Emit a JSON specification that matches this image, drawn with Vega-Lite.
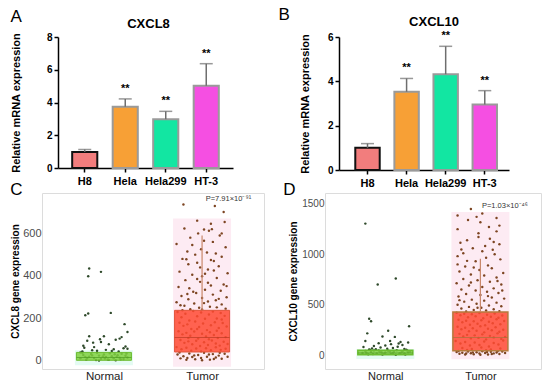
{
  "$schema": "https://vega.github.io/schema/vega-lite/v6.json",
  "padding": {"left": 10, "top": 6, "right": 0, "bottom": 0},
  "background": "white",
  "config": {
    "font": "Liberation Sans",
    "view": {"stroke": null},
    "title": {"color": "black"}
  },
  "datasets": {
    "b8": [
      {"cell": "H8", "mean": 0.98, "hi": 1.13, "sig": ""},
      {"cell": "Hela", "mean": 3.74, "hi": 4.22, "sig": "**"},
      {"cell": "Hela299", "mean": 2.98, "hi": 3.46, "sig": "**"},
      {"cell": "HT-3", "mean": 5.02, "hi": 6.37, "sig": "**"}
    ],
    "b10": [
      {"cell": "H8", "mean": 1.0, "hi": 1.19, "sig": ""},
      {"cell": "Hela", "mean": 3.53, "hi": 4.13, "sig": "**"},
      {"cell": "Hela299", "mean": 4.32, "hi": 5.58, "sig": "**"},
      {"cell": "HT-3", "mean": 2.96, "hi": 3.58, "sig": "**"}
    ],
    "c8box": [
      {"g": "Normal", "c": 1, "q1": 3, "med": 16, "q3": 40, "hi": 40, "bg0": -20, "bg1": 50},
      {"g": "Tumor", "c": 2, "q1": 42, "med": 110, "q3": 238, "hi": 590, "bg0": -28, "bg1": 670}
    ],
    "d10box": [
      {"g": "Normal", "c": 1, "q1": 3, "med": 20, "q3": 47, "hi": 47, "bg0": -40, "bg1": 60},
      {"g": "Tumor", "c": 2, "q1": 42, "med": 175, "q3": 428, "hi": 955, "bg0": -43, "bg1": 1420}
    ],
    "c8n": [
      {"j":0.85,"v":435},{"j":0.84,"v":398},{"j":0.97,"v":419},{"j":0.81,"v":215},{"j":0.84,"v":223},{"j":1.07,"v":226},{"j":1.21,"v":173},{"j":1.24,"v":136},{"j":0.85,"v":116},{"j":1.0,"v":116},{"j":1.12,"v":100},{"j":1.16,"v":105},{"j":0.79,"v":71},{"j":0.97,"v":89},{"j":0.89,"v":86},{"j":1.2,"v":60},{"j":1.1,"v":55},{"j":0.78,"v":45},{"j":0.93,"v":48},{"j":0.8,"v":62},{"j":0.83,"v":95},{"j":1.05,"v":78},{"j":1.02,"v":52},{"j":1.15,"v":44},{"j":1.22,"v":68},{"j":1.18,"v":112},{"j":1.24,"v":57},{"j":0.9,"v":65},{"j":0.96,"v":102},{"j":1.08,"v":47},{"j":0.76,"v":40},{"j":0.88,"v":50},
      {"j":0.76,"v":12},{"j":0.79,"v":28},{"j":0.82,"v":6},{"j":0.85,"v":20},{"j":0.87,"v":33},{"j":0.9,"v":14},{"j":0.92,"v":4},{"j":0.95,"v":25},{"j":0.97,"v":10},{"j":1.0,"v":30},{"j":1.02,"v":18},{"j":1.04,"v":7},{"j":1.06,"v":36},{"j":1.08,"v":22},{"j":1.1,"v":12},{"j":1.12,"v":3},{"j":1.14,"v":27},{"j":1.16,"v":15},{"j":1.18,"v":34},{"j":1.2,"v":9},{"j":1.22,"v":24},{"j":1.24,"v":16},{"j":0.78,"v":38},{"j":0.83,"v":14},{"j":0.93,"v":38},{"j":0.99,"v":21},{"j":1.05,"v":5},{"j":1.11,"v":31},{"j":1.17,"v":8},{"j":1.23,"v":35},{"j":0.88,"v":26},{"j":0.81,"v":19},{"j":1.13,"v":19},{"j":1.01,"v":11},{"j":0.95,"v":2}
    ],
    "c8t": [
      {"j":1.81,"v":736},{"j":2.13,"v":729},{"j":2.22,"v":701},{"j":2.23,"v":654},{"j":1.82,"v":623},{"j":2.02,"v":618},{"j":2.07,"v":612},{"j":2.10,"v":620},{"j":2.09,"v":645},{"j":1.96,"v":600},{"j":1.88,"v":580},{"j":2.02,"v":565},{"j":1.74,"v":550},{"j":2.24,"v":535},{"j":1.99,"v":525},{"j":2.05,"v":510},{"j":2.14,"v":505},{"j":1.93,"v":500},{"j":1.80,"v":480},{"j":1.84,"v":478},{"j":2.12,"v":470},{"j":1.95,"v":462},{"j":2.17,"v":445},{"j":2.06,"v":430},{"j":1.77,"v":420},{"j":2.26,"v":412},{"j":1.90,"v":405},{"j":2.0,"v":398},{"j":2.15,"v":390},{"j":1.83,"v":380},{"j":1.98,"v":372},{"j":2.22,"v":360},{"j":2.09,"v":355},{"j":1.76,"v":348},{"j":1.87,"v":342},{"j":2.03,"v":335},{"j":2.19,"v":330},{"j":1.94,"v":320},{"j":2.11,"v":312},{"j":1.79,"v":305},{"j":2.25,"v":300},{"j":2.0,"v":296},{"j":1.86,"v":290},{"j":2.14,"v":285},{"j":2.06,"v":280},{"j":1.74,"v":276},{"j":1.92,"v":270},{"j":2.2,"v":266},{"j":1.82,"v":260},{"j":2.08,"v":255},{"j":1.97,"v":250},{"j":2.24,"v":246},{"j":1.88,"v":243},{"j":1.95,"v":660},{"j":2.18,"v":590},{"j":1.9,"v":545},{"j":2.2,"v":490},{"j":1.86,"v":455},{"j":1.98,"v":440},{"j":2.12,"v":425},{"j":1.95,"v":385},{"j":2.06,"v":368},{"j":1.91,"v":325},{"j":2.17,"v":292},{"j":2.02,"v":272},{"j":1.78,"v":262},{"j":2.15,"v":252},{"j":1.85,"v":315},{"j":2.25,"v":352},{"j":2.03,"v":410},{"j":2.09,"v":475},{"j":1.85,"v":515},{"j":2.11,"v":560},{"j":2.2,"v":600},
      {"j":1.75,"v":230},{"j":1.79,"v":205},{"j":1.83,"v":222},{"j":1.87,"v":190},{"j":1.91,"v":235},{"j":1.95,"v":210},{"j":1.99,"v":228},{"j":2.03,"v":198},{"j":2.07,"v":218},{"j":2.11,"v":232},{"j":2.15,"v":200},{"j":2.19,"v":225},{"j":2.23,"v":212},{"j":1.77,"v":180},{"j":1.81,"v":165},{"j":1.85,"v":172},{"j":1.89,"v":150},{"j":1.93,"v":185},{"j":1.97,"v":160},{"j":2.01,"v":176},{"j":2.05,"v":145},{"j":2.09,"v":168},{"j":2.13,"v":182},{"j":2.17,"v":155},{"j":2.21,"v":178},{"j":2.25,"v":162},{"j":1.76,"v":140},{"j":1.8,"v":125},{"j":1.84,"v":132},{"j":1.88,"v":118},{"j":1.92,"v":138},{"j":1.96,"v":105},{"j":2.0,"v":128},{"j":2.04,"v":115},{"j":2.08,"v":135},{"j":2.12,"v":122},{"j":2.16,"v":108},{"j":2.2,"v":130},{"j":2.24,"v":112},{"j":1.78,"v":98},{"j":1.82,"v":85},{"j":1.86,"v":92},{"j":1.9,"v":78},{"j":1.94,"v":95},{"j":1.98,"v":70},{"j":2.02,"v":88},{"j":2.06,"v":75},{"j":2.1,"v":96},{"j":2.14,"v":82},{"j":2.18,"v":72},{"j":2.22,"v":90},{"j":2.26,"v":80},{"j":1.74,"v":65},{"j":1.79,"v":55},{"j":1.84,"v":62},{"j":1.89,"v":48},{"j":1.94,"v":58},{"j":1.99,"v":45},{"j":2.04,"v":60},{"j":2.09,"v":50},{"j":2.14,"v":64},{"j":2.19,"v":52},{"j":2.24,"v":57},{"j":1.8,"v":238},{"j":2.0,"v":242},{"j":2.2,"v":195},{"j":1.86,"v":108},{"j":2.07,"v":102},{"j":2.15,"v":142},{"j":1.95,"v":150},
      {"j":1.75,"v":30},{"j":1.78,"v":12},{"j":1.81,"v":22},{"j":1.84,"v":5},{"j":1.87,"v":35},{"j":1.9,"v":18},{"j":1.93,"v":8},{"j":1.96,"v":28},{"j":1.99,"v":14},{"j":2.02,"v":38},{"j":2.05,"v":20},{"j":2.08,"v":6},{"j":2.11,"v":32},{"j":2.14,"v":16},{"j":2.17,"v":25},{"j":2.2,"v":10},{"j":2.23,"v":34},{"j":2.26,"v":20},{"j":1.77,"v":40},{"j":1.92,"v":26},{"j":2.0,"v":3},{"j":2.12,"v":9},{"j":2.18,"v":38},{"j":1.85,"v":14},{"j":2.07,"v":30}
    ],
    "d10n": [
      {"j":0.79,"v":1305},{"j":0.92,"v":700},{"j":1.11,"v":760},{"j":0.83,"v":360},{"j":0.85,"v":335},{"j":0.81,"v":215},{"j":1.25,"v":285},{"j":1.03,"v":240},{"j":0.97,"v":183},{"j":1.1,"v":180},{"j":0.79,"v":140},{"j":1.24,"v":125},{"j":0.93,"v":117},{"j":1.05,"v":140},{"j":1.14,"v":115},{"j":0.88,"v":90},{"j":1.0,"v":95},{"j":1.18,"v":100},{"j":0.86,"v":65},{"j":1.08,"v":70},{"j":1.2,"v":60},{"j":0.95,"v":75},{"j":1.13,"v":82},{"j":0.83,"v":55},{"j":1.02,"v":62},{"j":1.22,"v":52},{"j":0.9,"v":58},{"j":1.16,"v":130},{"j":1.06,"v":108},{"j":0.77,"v":80},
      {"j":0.76,"v":20},{"j":0.79,"v":40},{"j":0.82,"v":8},{"j":0.85,"v":30},{"j":0.88,"v":45},{"j":0.91,"v":15},{"j":0.94,"v":35},{"j":0.97,"v":5},{"j":1.0,"v":25},{"j":1.03,"v":42},{"j":1.06,"v":12},{"j":1.09,"v":32},{"j":1.12,"v":48},{"j":1.15,"v":18},{"j":1.18,"v":38},{"j":1.21,"v":6},{"j":1.24,"v":28},{"j":0.8,"v":22},{"j":0.87,"v":10},{"j":0.93,"v":46},{"j":0.99,"v":14},{"j":1.05,"v":36},{"j":1.11,"v":3},{"j":1.17,"v":26},{"j":1.23,"v":44},{"j":0.84,"v":50},{"j":0.96,"v":28},{"j":1.08,"v":20},{"j":1.2,"v":16},{"j":1.26,"v":34}
    ],
    "d10t": [
      {"j":1.9,"v":1450},{"j":1.76,"v":1385},{"j":1.96,"v":1372},{"j":2.17,"v":1360},{"j":1.87,"v":1340},{"j":2.0,"v":1318},{"j":2.09,"v":1272},{"j":1.76,"v":1250},{"j":2.17,"v":1228},{"j":1.98,"v":1172},{"j":1.86,"v":1140},{"j":2.14,"v":1122},{"j":2.2,"v":1100},{"j":2.05,"v":1082},{"j":1.92,"v":1060},{"j":1.8,"v":1048},{"j":2.02,"v":1030},{"j":2.15,"v":1000},{"j":1.76,"v":982},{"j":2.21,"v":950},{"j":1.95,"v":932},{"j":1.76,"v":900},{"j":2.08,"v":890},{"j":1.84,"v":880},{"j":2.12,"v":862},{"j":1.99,"v":845},{"j":1.78,"v":830},{"j":2.24,"v":815},{"j":1.9,"v":800},{"j":2.04,"v":790},{"j":2.17,"v":770},{"j":1.82,"v":755},{"j":1.97,"v":742},{"j":2.1,"v":728},{"j":1.75,"v":712},{"j":2.22,"v":700},{"j":1.88,"v":690},{"j":2.02,"v":675},{"j":2.14,"v":662},{"j":1.8,"v":650},{"j":1.95,"v":640},{"j":2.07,"v":628},{"j":2.19,"v":615},{"j":1.85,"v":605},{"j":2.0,"v":595},{"j":1.77,"v":582},{"j":2.12,"v":572},{"j":2.25,"v":560},{"j":1.91,"v":550},{"j":2.04,"v":540},{"j":1.83,"v":530},{"j":2.17,"v":520},{"j":1.96,"v":510},{"j":1.76,"v":500},{"j":2.09,"v":492},{"j":2.22,"v":485},{"j":1.88,"v":478},{"j":2.01,"v":470},{"j":1.8,"v":462},{"j":2.14,"v":455},{"j":1.93,"v":448},{"j":2.06,"v":442},{"j":2.2,"v":436},{"j":1.85,"v":432},{"j":1.98,"v":1210},{"j":2.1,"v":1155},{"j":1.82,"v":1010},{"j":2.06,"v":965},{"j":1.93,"v":870},{"j":2.2,"v":1285},{"j":1.79,"v":1115},{"j":2.13,"v":1045},{"j":1.9,"v":720},{"j":2.23,"v":640},{"j":1.78,"v":545},{"j":2.08,"v":585},{"j":1.97,"v":470},{"j":2.18,"v":735},{"j":1.86,"v":935},{"j":2.02,"v":1405},
      {"j":1.75,"v":420},{"j":1.79,"v":395},{"j":1.83,"v":410},{"j":1.87,"v":375},{"j":1.91,"v":405},{"j":1.95,"v":385},{"j":1.99,"v":418},{"j":2.03,"v":365},{"j":2.07,"v":400},{"j":2.11,"v":380},{"j":2.15,"v":412},{"j":2.19,"v":370},{"j":2.23,"v":392},{"j":1.77,"v":350},{"j":1.81,"v":325},{"j":1.85,"v":340},{"j":1.89,"v":300},{"j":1.93,"v":335},{"j":1.97,"v":310},{"j":2.01,"v":345},{"j":2.05,"v":295},{"j":2.09,"v":330},{"j":2.13,"v":315},{"j":2.17,"v":355},{"j":2.21,"v":305},{"j":2.25,"v":338},{"j":1.76,"v":280},{"j":1.8,"v":255},{"j":1.84,"v":270},{"j":1.88,"v":235},{"j":1.92,"v":265},{"j":1.96,"v":240},{"j":2.0,"v":285},{"j":2.04,"v":225},{"j":2.08,"v":260},{"j":2.12,"v":245},{"j":2.16,"v":275},{"j":2.2,"v":230},{"j":2.24,"v":250},{"j":1.78,"v":210},{"j":1.82,"v":185},{"j":1.86,"v":200},{"j":1.9,"v":165},{"j":1.94,"v":195},{"j":1.98,"v":170},{"j":2.02,"v":205},{"j":2.06,"v":155},{"j":2.1,"v":190},{"j":2.14,"v":175},{"j":2.18,"v":215},{"j":2.22,"v":160},{"j":2.26,"v":180},{"j":1.74,"v":140},{"j":1.79,"v":115},{"j":1.84,"v":130},{"j":1.89,"v":95},{"j":1.94,"v":125},{"j":1.99,"v":100},{"j":2.04,"v":135},{"j":2.09,"v":85},{"j":2.14,"v":120},{"j":2.19,"v":105},{"j":2.24,"v":145},{"j":1.81,"v":70},{"j":1.91,"v":60},{"j":2.01,"v":75},{"j":2.11,"v":55},{"j":2.21,"v":65},{"j":1.86,"v":50},{"j":2.06,"v":48},
      {"j":1.75,"v":30},{"j":1.78,"v":12},{"j":1.81,"v":22},{"j":1.84,"v":5},{"j":1.87,"v":35},{"j":1.9,"v":18},{"j":1.93,"v":8},{"j":1.96,"v":28},{"j":1.99,"v":14},{"j":2.02,"v":38},{"j":2.05,"v":20},{"j":2.08,"v":6},{"j":2.11,"v":32},{"j":2.14,"v":16},{"j":2.17,"v":25},{"j":2.2,"v":10},{"j":2.23,"v":34},{"j":2.26,"v":20},{"j":1.77,"v":40},{"j":1.92,"v":26},{"j":2.0,"v":3},{"j":2.12,"v":9},{"j":2.18,"v":38},{"j":1.85,"v":14},{"j":2.07,"v":30}
    ]
  },
  "spacing": 13,
  "hconcat": [
    {
      "columns": 1,
      "align": "none",
      "spacing": -6,
      "concat": [
        {
          "title": {"text": "A", "anchor": "start", "fontSize": 17, "fontWeight": "normal", "offset": -8},
          "vconcat": [
            {
              "title": {"text": "CXCL8", "fontSize": 13, "fontWeight": "bold", "frame": "group", "dx": 11, "offset": 1},
              "width": 191,
              "height": 131,
              "data": {"name": "b8"},
              "encoding": {
                "x": {"field": "cell", "type": "nominal", "sort": null, "scale": {"paddingInner": 0.38, "paddingOuter": 0.548, "align": 0.68},
                  "axis": {"title": null, "labelAngle": 0, "labelFontSize": 11, "labelFontWeight": "bold", "labelColor": "black", "labelPadding": 3, "domainColor": "black", "domainWidth": 1.5, "domainDash": [0, 16, 400], "tickColor": "black", "tickWidth": 1.5, "tickSize": 4}}
              },
              "layer": [
                {
                  "mark": {"type": "bar", "strokeWidth": 2},
                  "encoding": {
                    "y": {"field": "mean", "type": "quantitative", "scale": {"domain": [0, 8]},
                      "axis": {"offset": -16, "values": [0, 2, 4, 6, 8], "title": "Relative mRNA expression", "titleFontSize": 11, "titleFontWeight": "bold", "titleColor": "black", "titlePadding": 25, "labelFontSize": 10, "labelFontWeight": "bold", "labelColor": "black", "labelPadding": 2, "labelOverlap": false, "domainColor": "black", "domainWidth": 1.5, "tickColor": "black", "tickWidth": 1.5, "tickSize": 4, "grid": false}},
                    "fill": {"field": "cell", "type": "nominal", "sort": null, "scale": {"domain": ["H8", "Hela", "Hela299", "HT-3"], "range": ["#f27d7d", "#f7a036", "#12e6a2", "#f54fe2"]}, "legend": null},
                    "stroke": {"condition": {"test": "datum.cell === 'H8'", "value": "#111111"}, "value": "#9a9a9a"}
                  }
                },
                {
                  "mark": {"type": "rule", "color": "#6e6e6e", "strokeWidth": 1.5},
                  "encoding": {
                    "y": {"field": "mean", "type": "quantitative", "scale": {"domain": [0, 8]},
                      "axis": {"offset": -16, "values": [0, 2, 4, 6, 8], "title": "Relative mRNA expression", "titleFontSize": 11, "titleFontWeight": "bold", "titleColor": "black", "titlePadding": 25, "labelFontSize": 10, "labelFontWeight": "bold", "labelColor": "black", "labelPadding": 2, "labelOverlap": false, "domainColor": "black", "domainWidth": 1.5, "tickColor": "black", "tickWidth": 1.5, "tickSize": 4, "grid": false}},
                    "y2": {"field": "hi"}
                  }
                },
                {
                  "mark": {"type": "tick", "color": "#6e6e6e", "size": 13, "thickness": 1.5},
                  "encoding": {
                    "y": {"field": "hi", "type": "quantitative", "scale": {"domain": [0, 8]},
                      "axis": {"offset": -16, "values": [0, 2, 4, 6, 8], "title": "Relative mRNA expression", "titleFontSize": 11, "titleFontWeight": "bold", "titleColor": "black", "titlePadding": 25, "labelFontSize": 10, "labelFontWeight": "bold", "labelColor": "black", "labelPadding": 2, "labelOverlap": false, "domainColor": "black", "domainWidth": 1.5, "tickColor": "black", "tickWidth": 1.5, "tickSize": 4, "grid": false}}
                  }
                },
                {
                  "mark": {"type": "text", "fontSize": 11, "fontWeight": "bold", "baseline": "bottom", "dy": -5, "color": "black"},
                  "encoding": {
                    "y": {"field": "hi", "type": "quantitative", "scale": {"domain": [0, 8]},
                      "axis": {"offset": -16, "values": [0, 2, 4, 6, 8], "title": "Relative mRNA expression", "titleFontSize": 11, "titleFontWeight": "bold", "titleColor": "black", "titlePadding": 25, "labelFontSize": 10, "labelFontWeight": "bold", "labelColor": "black", "labelPadding": 2, "labelOverlap": false, "domainColor": "black", "domainWidth": 1.5, "tickColor": "black", "tickWidth": 1.5, "tickSize": 4, "grid": false}},
                    "text": {"field": "sig"}
                  }
                }
              ]
            }
          ]
        },
        {
          "title": {"text": "C", "anchor": "start", "fontSize": 17, "fontWeight": "normal", "offset": -6},
          "vconcat": [
            {
              "width": 222,
              "height": 176,
              "view": {"stroke": "#dcdcdc"},
              "layer": [
                {
                  "data": {"name": "c8box"},
                  "mark": {"type": "bar", "orient": "vertical", "width": 58},
                  "encoding": {
                    "x": {"field": "c", "type": "quantitative", "scale": {"domain": [0.42, 2.58], "nice": false, "zero": false},
                      "axis": {"values": [1, 2], "labelExpr": "datum.value == 1 ? 'Normal' : 'Tumor'", "title": null, "domain": false, "grid": false, "ticks": false, "labelFontSize": 11.5, "labelColor": "#222222", "labelPadding": 1}},
                    "y": {"field": "bg0", "type": "quantitative", "scale": {"domain": [-38, 790], "nice": false, "zero": false},
                      "axis": {"values": [0, 200, 400, 600], "format": "d", "title": "CXCL8 gene expression", "titleFontSize": 10, "titleFontWeight": "bold", "titleColor": "black", "titlePadding": 2, "labelFontSize": 11, "labelColor": "#4d4d4d", "labelPadding": 1, "domain": false, "ticks": false, "grid": false}},
                    "y2": {"field": "bg1"},
                    "color": {"condition": {"test": "datum.g === 'Normal'", "value": "#e4fbf3"}, "value": "#fdebf3"}
                  }
                },
                {
                  "data": {"name": "c8n"},
                  "mark": {"type": "circle", "size": 6, "opacity": 1, "color": "#2f4a2b"},
                  "encoding": {
                    "x": {"field": "j", "type": "quantitative", "scale": {"domain": [0.42, 2.58], "nice": false, "zero": false},
                      "axis": {"values": [1, 2], "labelExpr": "datum.value == 1 ? 'Normal' : 'Tumor'", "title": null, "domain": false, "grid": false, "ticks": false, "labelFontSize": 11.5, "labelColor": "#222222", "labelPadding": 1}},
                    "y": {"field": "v", "type": "quantitative", "scale": {"domain": [-38, 790], "nice": false, "zero": false},
                      "axis": {"values": [0, 200, 400, 600], "format": "d", "title": "CXCL8 gene expression", "titleFontSize": 10, "titleFontWeight": "bold", "titleColor": "black", "titlePadding": 2, "labelFontSize": 11, "labelColor": "#4d4d4d", "labelPadding": 1, "domain": false, "ticks": false, "grid": false}}
                  }
                },
                {
                  "data": {"name": "c8t"},
                  "mark": {"type": "circle", "size": 6, "opacity": 1, "color": "#7d4522"},
                  "encoding": {
                    "x": {"field": "j", "type": "quantitative", "scale": {"domain": [0.42, 2.58], "nice": false, "zero": false},
                      "axis": {"values": [1, 2], "labelExpr": "datum.value == 1 ? 'Normal' : 'Tumor'", "title": null, "domain": false, "grid": false, "ticks": false, "labelFontSize": 11.5, "labelColor": "#222222", "labelPadding": 1}},
                    "y": {"field": "v", "type": "quantitative", "scale": {"domain": [-38, 790], "nice": false, "zero": false},
                      "axis": {"values": [0, 200, 400, 600], "format": "d", "title": "CXCL8 gene expression", "titleFontSize": 10, "titleFontWeight": "bold", "titleColor": "black", "titlePadding": 2, "labelFontSize": 11, "labelColor": "#4d4d4d", "labelPadding": 1, "domain": false, "ticks": false, "grid": false}}
                  }
                },
                {
                  "data": {"name": "c8box"},
                  "mark": {"type": "bar", "orient": "vertical", "width": 55, "fillOpacity": 0.85, "strokeWidth": 1},
                  "encoding": {
                    "x": {"field": "c", "type": "quantitative", "scale": {"domain": [0.42, 2.58], "nice": false, "zero": false},
                      "axis": {"values": [1, 2], "labelExpr": "datum.value == 1 ? 'Normal' : 'Tumor'", "title": null, "domain": false, "grid": false, "ticks": false, "labelFontSize": 11.5, "labelColor": "#222222", "labelPadding": 1}},
                    "y": {"field": "q1", "type": "quantitative", "scale": {"domain": [-38, 790], "nice": false, "zero": false},
                      "axis": {"values": [0, 200, 400, 600], "format": "d", "title": "CXCL8 gene expression", "titleFontSize": 10, "titleFontWeight": "bold", "titleColor": "black", "titlePadding": 2, "labelFontSize": 11, "labelColor": "#4d4d4d", "labelPadding": 1, "domain": false, "ticks": false, "grid": false}},
                    "y2": {"field": "q3"},
                    "fill": {"condition": {"test": "datum.g === 'Normal'", "value": "#7fd03e"}, "value": "#ff4a32"},
                    "stroke": {"condition": {"test": "datum.g === 'Normal'", "value": "#6cbc30"}, "value": "#e0553a"}
                  }
                },
                {
                  "data": {"name": "c8box"},
                  "mark": {"type": "tick", "orient": "horizontal", "size": 55, "thickness": 1},
                  "encoding": {
                    "x": {"field": "c", "type": "quantitative", "scale": {"domain": [0.42, 2.58], "nice": false, "zero": false},
                      "axis": {"values": [1, 2], "labelExpr": "datum.value == 1 ? 'Normal' : 'Tumor'", "title": null, "domain": false, "grid": false, "ticks": false, "labelFontSize": 11.5, "labelColor": "#222222", "labelPadding": 1}},
                    "y": {"field": "med", "type": "quantitative", "scale": {"domain": [-38, 790], "nice": false, "zero": false},
                      "axis": {"values": [0, 200, 400, 600], "format": "d", "title": "CXCL8 gene expression", "titleFontSize": 10, "titleFontWeight": "bold", "titleColor": "black", "titlePadding": 2, "labelFontSize": 11, "labelColor": "#4d4d4d", "labelPadding": 1, "domain": false, "ticks": false, "grid": false}},
                    "color": {"condition": {"test": "datum.g === 'Normal'", "value": "#4d9a22"}, "value": "#b83a22"}
                  }
                },
                {
                  "data": {"name": "c8box"},
                  "mark": {"type": "rule", "strokeWidth": 1.2},
                  "encoding": {
                    "x": {"field": "c", "type": "quantitative", "scale": {"domain": [0.42, 2.58], "nice": false, "zero": false},
                      "axis": {"values": [1, 2], "labelExpr": "datum.value == 1 ? 'Normal' : 'Tumor'", "title": null, "domain": false, "grid": false, "ticks": false, "labelFontSize": 11.5, "labelColor": "#222222", "labelPadding": 1}},
                    "y": {"field": "q3", "type": "quantitative", "scale": {"domain": [-38, 790], "nice": false, "zero": false},
                      "axis": {"values": [0, 200, 400, 600], "format": "d", "title": "CXCL8 gene expression", "titleFontSize": 10, "titleFontWeight": "bold", "titleColor": "black", "titlePadding": 2, "labelFontSize": 11, "labelColor": "#4d4d4d", "labelPadding": 1, "domain": false, "ticks": false, "grid": false}},
                    "y2": {"field": "hi"},
                    "color": {"condition": {"test": "datum.g === 'Normal'", "value": "#6cbc30"}, "value": "#c8876a"}
                  }
                },
                {
                  "data": {"values": [{"label": "P=7.91×10⁻⁹¹"}]},
                  "mark": {"type": "text", "align": "right", "baseline": "middle", "fontSize": 7.5, "color": "#333333"},
                  "encoding": {
                    "x": {"datum": 2.5, "type": "quantitative", "scale": {"domain": [0.42, 2.58], "nice": false, "zero": false},
                      "axis": {"values": [1, 2], "labelExpr": "datum.value == 1 ? 'Normal' : 'Tumor'", "title": null, "domain": false, "grid": false, "ticks": false, "labelFontSize": 11.5, "labelColor": "#222222", "labelPadding": 1}},
                    "y": {"datum": 760, "type": "quantitative", "scale": {"domain": [-38, 790], "nice": false, "zero": false},
                      "axis": {"values": [0, 200, 400, 600], "format": "d", "title": "CXCL8 gene expression", "titleFontSize": 10, "titleFontWeight": "bold", "titleColor": "black", "titlePadding": 2, "labelFontSize": 11, "labelColor": "#4d4d4d", "labelPadding": 1, "domain": false, "ticks": false, "grid": false}},
                    "text": {"field": "label"}
                  }
                }
              ]
            }
          ]
        }
      ]
    },
    {
      "columns": 1,
      "align": "none",
      "spacing": -8,
      "concat": [
        {
          "title": {"text": "B", "anchor": "start", "fontSize": 17, "fontWeight": "normal", "offset": -8, "dx": -21},
          "vconcat": [
            {
              "title": {"text": "CXCL10", "fontSize": 13, "fontWeight": "bold", "frame": "group", "dx": 17, "offset": 1},
              "width": 184,
              "height": 133,
              "data": {"name": "b10"},
              "encoding": {
                "x": {"field": "cell", "type": "nominal", "sort": null, "scale": {"paddingInner": 0.375, "paddingOuter": 0.541, "align": 0.716},
                  "axis": {"title": null, "labelAngle": 0, "labelFontSize": 11, "labelFontWeight": "bold", "labelColor": "black", "labelPadding": 3, "domainColor": "black", "domainWidth": 1.5, "domainDash": [0, 14, 400], "tickColor": "black", "tickWidth": 1.5, "tickSize": 4}}
              },
              "layer": [
                {
                  "mark": {"type": "bar", "strokeWidth": 2},
                  "encoding": {
                    "y": {"field": "mean", "type": "quantitative", "scale": {"domain": [0, 6]},
                      "axis": {"offset": -14, "values": [0, 2, 4, 6], "title": "Relative mRNA expression", "titleFontSize": 11, "titleFontWeight": "bold", "titleColor": "black", "titlePadding": 17, "labelFontSize": 10, "labelFontWeight": "bold", "labelColor": "black", "labelPadding": 2, "labelOverlap": false, "domainColor": "black", "domainWidth": 1.5, "tickColor": "black", "tickWidth": 1.5, "tickSize": 4, "grid": false}},
                    "fill": {"field": "cell", "type": "nominal", "sort": null, "scale": {"domain": ["H8", "Hela", "Hela299", "HT-3"], "range": ["#f87a7a", "#f5a030", "#0ee8a4", "#f64de0"]}, "legend": null},
                    "stroke": {"condition": {"test": "datum.cell === 'H8'", "value": "#111111"}, "value": "#9a9a9a"}
                  }
                },
                {
                  "mark": {"type": "rule", "color": "#6e6e6e", "strokeWidth": 1.5},
                  "encoding": {
                    "y": {"field": "mean", "type": "quantitative", "scale": {"domain": [0, 6]},
                      "axis": {"offset": -14, "values": [0, 2, 4, 6], "title": "Relative mRNA expression", "titleFontSize": 11, "titleFontWeight": "bold", "titleColor": "black", "titlePadding": 17, "labelFontSize": 10, "labelFontWeight": "bold", "labelColor": "black", "labelPadding": 2, "labelOverlap": false, "domainColor": "black", "domainWidth": 1.5, "tickColor": "black", "tickWidth": 1.5, "tickSize": 4, "grid": false}},
                    "y2": {"field": "hi"}
                  }
                },
                {
                  "mark": {"type": "tick", "color": "#6e6e6e", "size": 13, "thickness": 1.5},
                  "encoding": {
                    "y": {"field": "hi", "type": "quantitative", "scale": {"domain": [0, 6]},
                      "axis": {"offset": -14, "values": [0, 2, 4, 6], "title": "Relative mRNA expression", "titleFontSize": 11, "titleFontWeight": "bold", "titleColor": "black", "titlePadding": 17, "labelFontSize": 10, "labelFontWeight": "bold", "labelColor": "black", "labelPadding": 2, "labelOverlap": false, "domainColor": "black", "domainWidth": 1.5, "tickColor": "black", "tickWidth": 1.5, "tickSize": 4, "grid": false}}
                  }
                },
                {
                  "mark": {"type": "text", "fontSize": 11, "fontWeight": "bold", "baseline": "bottom", "dy": -5, "color": "black"},
                  "encoding": {
                    "y": {"field": "hi", "type": "quantitative", "scale": {"domain": [0, 6]},
                      "axis": {"offset": -14, "values": [0, 2, 4, 6], "title": "Relative mRNA expression", "titleFontSize": 11, "titleFontWeight": "bold", "titleColor": "black", "titlePadding": 17, "labelFontSize": 10, "labelFontWeight": "bold", "labelColor": "black", "labelPadding": 2, "labelOverlap": false, "domainColor": "black", "domainWidth": 1.5, "tickColor": "black", "tickWidth": 1.5, "tickSize": 4, "grid": false}},
                    "text": {"field": "sig"}
                  }
                }
              ]
            }
          ]
        },
        {
          "title": {"text": "D", "anchor": "start", "fontSize": 17, "fontWeight": "normal", "offset": -6, "dx": -5},
          "vconcat": [
            {
              "width": 216,
              "height": 176,
              "view": {"stroke": "#dcdcdc"},
              "layer": [
                {
                  "data": {"name": "d10box"},
                  "mark": {"type": "bar", "orient": "vertical", "width": 58},
                  "encoding": {
                    "x": {"field": "c", "type": "quantitative", "scale": {"domain": [0.418, 2.585], "nice": false, "zero": false},
                      "axis": {"values": [1, 2], "labelExpr": "datum.value == 1 ? 'Normal' : 'Tumor'", "title": null, "domain": false, "grid": false, "ticks": false, "labelFontSize": 11, "labelColor": "#222222", "labelPadding": 1}},
                    "y": {"field": "bg0", "type": "quantitative", "scale": {"domain": [-139, 1609], "nice": false, "zero": false},
                      "axis": {"values": [0, 500, 1000, 1500], "format": "d", "title": "CXCL10 gene expression", "titleFontSize": 10, "titleFontWeight": "bold", "titleColor": "black", "titlePadding": 3, "labelFontSize": 10, "labelColor": "#4d4d4d", "labelPadding": 1, "domain": false, "ticks": false, "grid": false}},
                    "y2": {"field": "bg1"},
                    "color": {"condition": {"test": "datum.g === 'Normal'", "value": "#e4fbf3"}, "value": "#fdebf3"}
                  }
                },
                {
                  "data": {"name": "d10n"},
                  "mark": {"type": "circle", "size": 6, "opacity": 1, "color": "#2f4a2b"},
                  "encoding": {
                    "x": {"field": "j", "type": "quantitative", "scale": {"domain": [0.418, 2.585], "nice": false, "zero": false},
                      "axis": {"values": [1, 2], "labelExpr": "datum.value == 1 ? 'Normal' : 'Tumor'", "title": null, "domain": false, "grid": false, "ticks": false, "labelFontSize": 11, "labelColor": "#222222", "labelPadding": 1}},
                    "y": {"field": "v", "type": "quantitative", "scale": {"domain": [-139, 1609], "nice": false, "zero": false},
                      "axis": {"values": [0, 500, 1000, 1500], "format": "d", "title": "CXCL10 gene expression", "titleFontSize": 10, "titleFontWeight": "bold", "titleColor": "black", "titlePadding": 3, "labelFontSize": 10, "labelColor": "#4d4d4d", "labelPadding": 1, "domain": false, "ticks": false, "grid": false}}
                  }
                },
                {
                  "data": {"name": "d10t"},
                  "mark": {"type": "circle", "size": 6, "opacity": 1, "color": "#7d4522"},
                  "encoding": {
                    "x": {"field": "j", "type": "quantitative", "scale": {"domain": [0.418, 2.585], "nice": false, "zero": false},
                      "axis": {"values": [1, 2], "labelExpr": "datum.value == 1 ? 'Normal' : 'Tumor'", "title": null, "domain": false, "grid": false, "ticks": false, "labelFontSize": 11, "labelColor": "#222222", "labelPadding": 1}},
                    "y": {"field": "v", "type": "quantitative", "scale": {"domain": [-139, 1609], "nice": false, "zero": false},
                      "axis": {"values": [0, 500, 1000, 1500], "format": "d", "title": "CXCL10 gene expression", "titleFontSize": 10, "titleFontWeight": "bold", "titleColor": "black", "titlePadding": 3, "labelFontSize": 10, "labelColor": "#4d4d4d", "labelPadding": 1, "domain": false, "ticks": false, "grid": false}}
                  }
                },
                {
                  "data": {"name": "d10box"},
                  "mark": {"type": "bar", "orient": "vertical", "width": 55, "fillOpacity": 0.85, "strokeWidth": 1.5},
                  "encoding": {
                    "x": {"field": "c", "type": "quantitative", "scale": {"domain": [0.418, 2.585], "nice": false, "zero": false},
                      "axis": {"values": [1, 2], "labelExpr": "datum.value == 1 ? 'Normal' : 'Tumor'", "title": null, "domain": false, "grid": false, "ticks": false, "labelFontSize": 11, "labelColor": "#222222", "labelPadding": 1}},
                    "y": {"field": "q1", "type": "quantitative", "scale": {"domain": [-139, 1609], "nice": false, "zero": false},
                      "axis": {"values": [0, 500, 1000, 1500], "format": "d", "title": "CXCL10 gene expression", "titleFontSize": 10, "titleFontWeight": "bold", "titleColor": "black", "titlePadding": 3, "labelFontSize": 10, "labelColor": "#4d4d4d", "labelPadding": 1, "domain": false, "ticks": false, "grid": false}},
                    "y2": {"field": "q3"},
                    "fill": {"condition": {"test": "datum.g === 'Normal'", "value": "#7fd03e"}, "value": "#ff4a32"},
                    "stroke": {"condition": {"test": "datum.g === 'Normal'", "value": "#6cbc30"}, "value": "#b57a3c"}
                  }
                },
                {
                  "data": {"name": "d10box"},
                  "mark": {"type": "tick", "orient": "horizontal", "size": 55, "thickness": 1},
                  "encoding": {
                    "x": {"field": "c", "type": "quantitative", "scale": {"domain": [0.418, 2.585], "nice": false, "zero": false},
                      "axis": {"values": [1, 2], "labelExpr": "datum.value == 1 ? 'Normal' : 'Tumor'", "title": null, "domain": false, "grid": false, "ticks": false, "labelFontSize": 11, "labelColor": "#222222", "labelPadding": 1}},
                    "y": {"field": "med", "type": "quantitative", "scale": {"domain": [-139, 1609], "nice": false, "zero": false},
                      "axis": {"values": [0, 500, 1000, 1500], "format": "d", "title": "CXCL10 gene expression", "titleFontSize": 10, "titleFontWeight": "bold", "titleColor": "black", "titlePadding": 3, "labelFontSize": 10, "labelColor": "#4d4d4d", "labelPadding": 1, "domain": false, "ticks": false, "grid": false}},
                    "color": {"condition": {"test": "datum.g === 'Normal'", "value": "#4d9a22"}, "value": "#a8703a"}
                  }
                },
                {
                  "data": {"name": "d10box"},
                  "mark": {"type": "rule", "strokeWidth": 1.2},
                  "encoding": {
                    "x": {"field": "c", "type": "quantitative", "scale": {"domain": [0.418, 2.585], "nice": false, "zero": false},
                      "axis": {"values": [1, 2], "labelExpr": "datum.value == 1 ? 'Normal' : 'Tumor'", "title": null, "domain": false, "grid": false, "ticks": false, "labelFontSize": 11, "labelColor": "#222222", "labelPadding": 1}},
                    "y": {"field": "q3", "type": "quantitative", "scale": {"domain": [-139, 1609], "nice": false, "zero": false},
                      "axis": {"values": [0, 500, 1000, 1500], "format": "d", "title": "CXCL10 gene expression", "titleFontSize": 10, "titleFontWeight": "bold", "titleColor": "black", "titlePadding": 3, "labelFontSize": 10, "labelColor": "#4d4d4d", "labelPadding": 1, "domain": false, "ticks": false, "grid": false}},
                    "y2": {"field": "hi"},
                    "color": {"condition": {"test": "datum.g === 'Normal'", "value": "#6cbc30"}, "value": "#c8876a"}
                  }
                },
                {
                  "data": {"values": [{"label": "P=1.03×10⁻⁴⁶"}]},
                  "mark": {"type": "text", "align": "right", "baseline": "middle", "fontSize": 7.5, "color": "#333333"},
                  "encoding": {
                    "x": {"datum": 2.5, "type": "quantitative", "scale": {"domain": [0.418, 2.585], "nice": false, "zero": false},
                      "axis": {"values": [1, 2], "labelExpr": "datum.value == 1 ? 'Normal' : 'Tumor'", "title": null, "domain": false, "grid": false, "ticks": false, "labelFontSize": 11, "labelColor": "#222222", "labelPadding": 1}},
                    "y": {"datum": 1475, "type": "quantitative", "scale": {"domain": [-139, 1609], "nice": false, "zero": false},
                      "axis": {"values": [0, 500, 1000, 1500], "format": "d", "title": "CXCL10 gene expression", "titleFontSize": 10, "titleFontWeight": "bold", "titleColor": "black", "titlePadding": 3, "labelFontSize": 10, "labelColor": "#4d4d4d", "labelPadding": 1, "domain": false, "ticks": false, "grid": false}},
                    "text": {"field": "label"}
                  }
                }
              ]
            }
          ]
        }
      ]
    }
  ]
}
